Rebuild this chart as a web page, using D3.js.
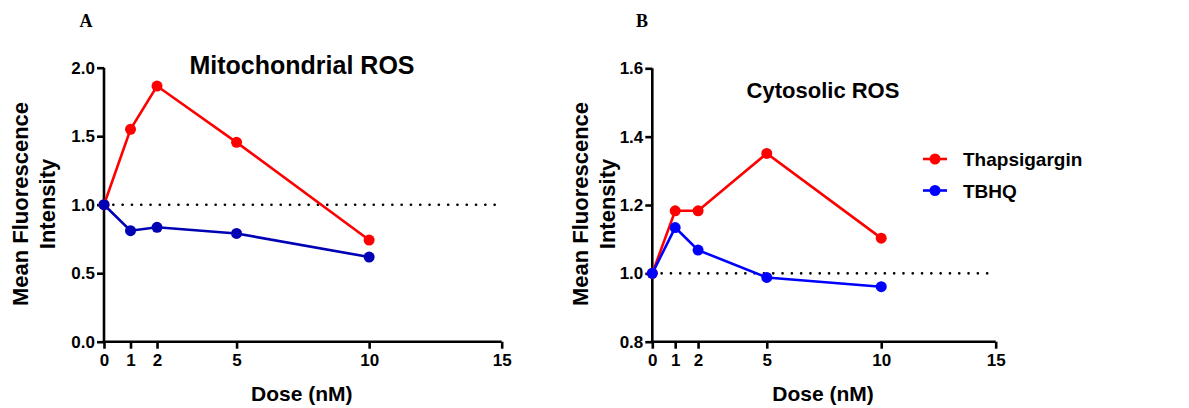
<!DOCTYPE html>
<html>
<head>
<meta charset="utf-8">
<script src="https://cdn.jsdelivr.net/npm/d3@7"></script>
<style>
  body { margin: 0; background: #fff; }
  svg text { font-family: "Liberation Sans", Arial, sans-serif; font-weight: bold; fill: #000; }
</style>
</head>
<body>
<svg id="chart" width="1189" height="408"></svg>
<script>
// doses (nM)
var doses = [0, 1, 2, 5, 10];
var xTicks = [0, 1, 2, 5, 10, 15];

// panel A - mitochondrial ROS
var mitoThapsigargin = [1.0, 1.55, 1.866, 1.455, 0.742];
var mitoTBHQ = [1.0, 0.81, 0.835, 0.79, 0.618];
var mitoTicks = [0.0, 0.5, 1.0, 1.5, 2.0];

// panel B - cytosolic ROS
var cytoThapsigargin = [1.0, 1.183, 1.183, 1.351, 1.103];
var cytoTBHQ = [1.0, 1.134, 1.068, 0.988, 0.961];
var cytoTicks = [0.8, 1.0, 1.2, 1.4, 1.6];

var seriesNames = ['Thapsigargin', 'TBHQ'];

var svg = d3.select('#chart');

function drawPanel(cfg) {
    var x = d3.scaleLinear().domain([0, 15]).range([cfg.left, cfg.right]),
        y = d3.scaleLinear().domain(cfg.yDomain).range([cfg.bottom, cfg.top]),
        g = svg.append('g');

    // reference line at 1.0
    g.append('line')
        .attr('x1', x(0)).attr('x2', x(15))
        .attr('y1', y(1)).attr('y2', y(1))
        .attr('stroke', '#000')
        .attr('stroke-width', 2.6)
        .attr('stroke-linecap', 'round')
        .attr('stroke-dasharray', '0.1,9.2');

    var xAxis = d3.axisBottom(x).tickValues(xTicks).tickSize(7).tickPadding(5).tickFormat(d3.format('d'));
    var yAxis = d3.axisLeft(y).tickValues(cfg.yTicks).tickSize(7).tickPadding(2).tickFormat(d3.format('.1f'));

    var gx = g.append('g')
        .attr('transform', 'translate(0,' + cfg.bottom + ')')
        .call(xAxis);
    var gy = g.append('g')
        .attr('transform', 'translate(' + cfg.left + ',0)')
        .call(yAxis);

    [gx, gy].forEach(function (a) {
        a.select('.domain').attr('stroke-width', 2.6).attr('stroke', '#000');
        a.selectAll('.tick line').attr('stroke-width', 2.6).attr('stroke', '#000');
        a.selectAll('text').style('font-size', '17px').attr('fill', '#000');
    });
    // remove outer tick stubs from domain path
    gx.select('.domain').attr('d', 'M' + x(0) + ',0H' + x(15));
    gy.select('.domain').attr('d', 'M0,' + y(cfg.yDomain[0]) + 'V' + y(cfg.yDomain[1]));

    var line = d3.line()
        .x(function (d, i) { return x(doses[i]); })
        .y(function (d) { return y(d); });

    cfg.series.forEach(function (s, k) {
        g.append('path')
            .datum(s)
            .attr('fill', 'none')
            .attr('stroke', cfg.colors[k])
            .attr('stroke-width', 2.6)
            .attr('d', line);
    });
    cfg.series.forEach(function (s, k) {
        g.selectAll('.pt' + k)
            .data(s)
            .enter().append('circle')
            .attr('cx', function (d, i) { return x(doses[i]); })
            .attr('cy', function (d) { return y(d); })
            .attr('r', 5.5)
            .attr('fill', cfg.colors[k]);
    });

    // titles
    g.append('text')
        .attr('x', cfg.titleX).attr('y', cfg.titleY)
        .attr('text-anchor', 'middle')
        .style('font-size', cfg.titleSize + 'px')
        .text(cfg.title);

    g.append('text')
        .attr('x', (x(0) + x(15)) / 2 - 1).attr('y', 401)
        .attr('text-anchor', 'middle')
        .style('font-size', '21px')
        .text('Dose (nM)');

    var yt = g.append('text')
        .attr('transform', 'translate(' + cfg.yTitleX + ',204) rotate(-90)')
        .attr('text-anchor', 'middle')
        .style('font-size', '22px');
    yt.append('tspan').attr('x', 0).attr('y', 0).text('Mean Fluorescence');
    yt.append('tspan').attr('x', 0).attr('y', 27).text('Intensity');

    g.append('text')
        .attr('x', cfg.letterX).attr('y', 27)
        .attr('text-anchor', 'middle')
        .style('font-family', '"Liberation Serif", "Times New Roman", serif')
        .style('font-size', '18px')
        .text(cfg.letter);
}

drawPanel({
    left: 104, right: 501.7, top: 67.7, bottom: 341.7,
    yDomain: [0, 2], yTicks: mitoTicks,
    series: [mitoThapsigargin, mitoTBHQ],
    colors: ['#ff0000', '#0000b4'],
    title: 'Mitochondrial ROS', titleX: 302, titleY: 74, titleSize: 25,
    yTitleX: 28, letter: 'A', letterX: 86
});

drawPanel({
    left: 652.3, right: 995.7, top: 68.3, bottom: 341.7,
    yDomain: [0.8, 1.6], yTicks: cytoTicks,
    series: [cytoThapsigargin, cytoTBHQ],
    colors: ['#ff0000', '#0000ff'],
    title: 'Cytosolic ROS', titleX: 823, titleY: 98, titleSize: 22,
    yTitleX: 588, letter: 'B', letterX: 642
});

// legend
var legendColors = ['#ff0000', '#0000ff'];
var legend = svg.append('g').attr('transform', 'translate(923,159)');
seriesNames.forEach(function (name, i) {
    var row = legend.append('g').attr('transform', 'translate(0,' + (i * 31.5) + ')');
    row.append('line').attr('x1', 0).attr('x2', 24).attr('y1', 0).attr('y2', 0)
        .attr('stroke', legendColors[i]).attr('stroke-width', 2.6);
    row.append('circle').attr('cx', 12).attr('cy', 0).attr('r', 5.5).attr('fill', legendColors[i]);
    row.append('text').attr('x', 40).attr('y', 7).style('font-size', '19px').text(name);
});
</script>
</body>
</html>
